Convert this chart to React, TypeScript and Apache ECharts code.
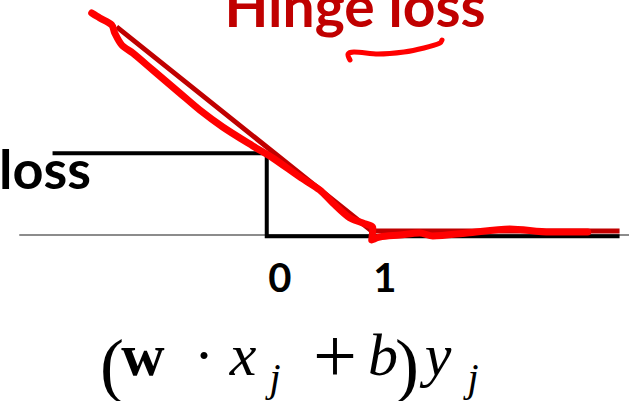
import React, { useEffect, useRef } from "react";
import * as echarts from "echarts";

// Margin m = (w·x_j + b) y_j on the x axis, loss on the y axis.
const zeroOneLoss: [number, number][] = [
  [-2.04, 1],
  [0, 1],
  [0, 0],
  [3.36, 0],
];

const hingeLoss: [number, number][] = [
  [-1.43, 2.43],
  [1, 0],
  [3.36, 0],
];

// Freehand pen stroke traced over the hinge curve.
const penStroke: [number, number][] = [
  [-1.667, 2.595],
  [-1.59, 2.536],
  [-1.476, 2.452],
  [-1.448, 2.357],
  [-1.381, 2.214],
  [-1.276, 2.119],
  [-1.086, 1.917],
  [-0.829, 1.643],
  [-0.638, 1.44],
  [-0.419, 1.238],
  [-0.133, 1.012],
  [0.057, 0.869],
  [0.314, 0.643],
  [0.505, 0.488],
  [0.629, 0.333],
  [0.79, 0.155],
  [0.914, 0.095],
  [1.01, 0.036],
  [1.0, -0.107],
  [1.076, -0.071],
  [1.267, -0.048],
  [1.457, -0.024],
  [1.581, -0.06],
  [1.905, -0.024],
  [2.314, 0.024],
  [2.695, -0.012],
  [3.057, -0.012],
];

const tickValues = [0, 1];

const DARK_RED = "#c00000";
const PEN_RED = "#ff0000";
const SANS = "Lato";
const SERIF = "Liberation Serif";

type Glyph = {
  text: string;
  cx: number;
  cy: number;
  size: number;
  weight?: string;
  italic?: boolean;
};

// Axis title (w·x_j + b)y_j, typeset glyph by glyph.
const formulaGlyphs: Glyph[] = [
  { text: "(", cx: 112, cy: 365, size: 72 },
  { text: "w", cx: 143, cy: 355, size: 60, weight: "bold" },
  { text: "·", cx: 204, cy: 355, size: 60 },
  { text: "x", cx: 243, cy: 355, size: 60, italic: true },
  { text: "j", cx: 275, cy: 377, size: 40, italic: true },
  { text: "+", cx: 335, cy: 355, size: 78 },
  { text: "b", cx: 383, cy: 355, size: 60, italic: true },
  { text: ")", cx: 407, cy: 365, size: 72 },
  { text: "y", cx: 438, cy: 355, size: 60, italic: true },
  { text: "j", cx: 473, cy: 377, size: 40, italic: true },
];

export default function App() {
  const ref = useRef<HTMLDivElement>(null);

  useEffect(() => {
    if (!ref.current) return;
    const chart = echarts.init(ref.current, null, { renderer: "svg" });

    const formula = formulaGlyphs.map((g) => ({
      type: "text",
      x: g.cx,
      y: g.cy,
      z: 10,
      style: {
        text: g.text,
        fill: "#000",
        fontFamily: SERIF,
        fontSize: g.size,
        fontWeight: g.weight || "normal",
        fontStyle: g.italic ? "italic" : "normal",
        align: "center",
        verticalAlign: "middle",
        textAlign: "center",
        textVerticalAlign: "middle",
      },
    }));

    chart.setOption({
      animation: false,
      backgroundColor: "#ffffff",
      grid: { left: 20, right: 0, top: 0, bottom: 166 },
      xAxis: {
        type: "value",
        min: -2.35,
        max: 3.45,
        splitLine: { show: false },
        axisTick: { show: false },
        axisLine: {
          onZero: false,
          lineStyle: { color: "#8c8c8c", width: 2 },
        },
        axisLabel: {
          customValues: tickValues,
          color: "#000",
          fontFamily: SANS,
          fontWeight: "bold",
          fontSize: 40,
          margin: 22,
          padding: [0, 0, 0, 26],
        },
      },
      yAxis: [
        { type: "value", min: -0.048, max: 2.75, show: false },
        { type: "value", min: 0.015, max: 2.85, show: false },
      ],
      series: [
        {
          type: "line",
          name: "0/1 loss",
          yAxisIndex: 1,
          data: zeroOneLoss,
          showSymbol: false,
          clip: false,
          z: 2,
          lineStyle: { color: "#000", width: 4, cap: "butt", join: "miter" },
        },
        {
          type: "line",
          name: "hinge loss",
          yAxisIndex: 0,
          data: hingeLoss,
          showSymbol: false,
          clip: false,
          z: 3,
          lineStyle: { color: DARK_RED, width: 5, cap: "butt" },
        },
        {
          type: "line",
          name: "pen",
          yAxisIndex: 0,
          data: penStroke,
          showSymbol: false,
          clip: false,
          smooth: 0.3,
          z: 4,
          lineStyle: { color: PEN_RED, width: 7, cap: "round", join: "round" },
        },
      ],
      graphic: [
        {
          type: "text",
          x: 355,
          y: 5,
          z: 10,
          style: {
            text: "Hinge loss",
            fill: DARK_RED,
            fontFamily: SANS,
            fontWeight: "bold",
            fontSize: 57,
            align: "center",
            verticalAlign: "middle",
            textAlign: "center",
            textVerticalAlign: "middle",
          },
        },
        {
          type: "polyline",
          z: 10,
          shape: {
            points: [
              [350, 60],
              [348, 54],
              [354, 52],
              [378, 54],
              [404, 52],
              [424, 48],
              [440, 43],
              [442, 40],
            ],
            smooth: 0.3,
          },
          style: {
            stroke: PEN_RED,
            lineWidth: 5,
            lineCap: "round",
            lineJoin: "round",
            fill: null,
          },
        },
        {
          type: "text",
          x: 91,
          y: 168,
          z: 10,
          style: {
            text: "loss",
            fill: "#000",
            fontFamily: SANS,
            fontWeight: "bold",
            fontSize: 54,
            align: "right",
            verticalAlign: "middle",
            textAlign: "right",
            textVerticalAlign: "middle",
          },
        },
        ...formula,
      ],
    });

    return () => chart.dispose();
  }, []);

  return (
    <div
      ref={ref}
      style={{ position: "fixed", left: 0, top: 0, width: 629, height: 401 }}
    />
  );
}
